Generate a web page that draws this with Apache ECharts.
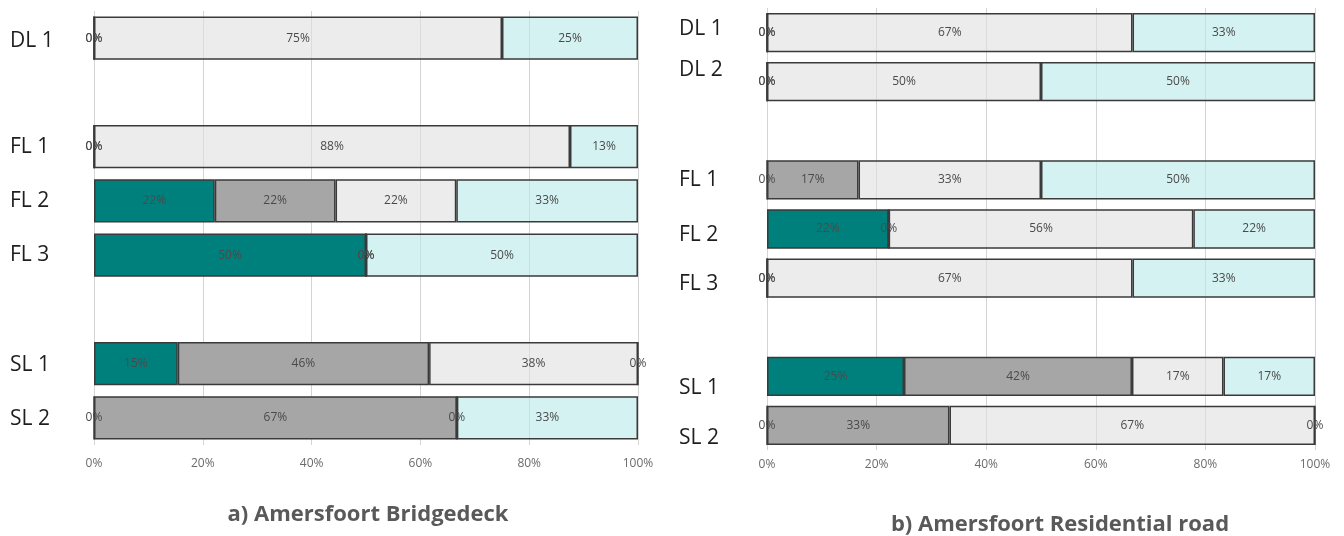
<!DOCTYPE html>
<html>
<head>
<meta charset="utf-8">
<script src="https://cdn.jsdelivr.net/npm/echarts@6/dist/echarts.min.js"></script>
<style>
html,body{margin:0;padding:0;background:#fff;}
#c{width:1344px;height:536px;}
</style>
</head>
<body>
<div id="c"></div>
<script>
// Panel a) Amersfoort Bridgedeck
const catsA = ['DL 1', ' ', 'FL 1', 'FL 2', 'FL 3', '  ', 'SL 1', 'SL 2'];
const tealA  = [0, null, 0,    22.2, 50, null, 15.4, 0];
const grayA  = [0, null, 0,    22.2, 0,  null, 46.2, 66.7];
const lightA = [75, null, 87.5, 22.2, 0,  null, 38.4, 0];
const cyanA  = [25, null, 12.5, 33.4, 50, null, 0,    33.3];

// Panel b) Amersfoort Residential road
const catsB = ['DL 1', 'DL 2', ' ', 'FL 1', 'FL 2', 'FL 3', '  ', 'SL 1', 'SL 2'];
const tealB  = [0,    0,  null, 0,    22.2, 0,    null, 25,   0];
const grayB  = [0,    0,  null, 16.7, 0,    0,    null, 41.6, 33.3];
const lightB = [66.7, 50, null, 33.3, 55.6, 66.7, null, 16.7, 66.7];
const cyanB  = [33.3, 50, null, 50,   22.2, 33.3, null, 16.7, 0];

const xTicks = [0, 20, 40, 60, 80, 100];
const titleA = 'a) Amersfoort Bridgedeck';
const titleB = 'b) Amersfoort Residential road';

// ---- styling ----
const colors = ['#00807d', '#a6a6a6', 'rgba(224,224,224,0.6)', 'rgba(185,233,233,0.6)'];
// vertical nudges (px) of the category labels, as placed in the reference layout
const nudgeA = [3, 0, 0, 0, 0, 0, 1, 1];
const nudgeB = [-4, -12, 0, 0, 6, 6, 0, 12, 13];

function mkSeries(data, idx, colorIdx) {
  return {
    type: 'bar',
    stack: 's' + idx,
    xAxisIndex: idx,
    yAxisIndex: idx,
    data: data,
    barWidth: '80%',
    itemStyle: { color: colors[colorIdx], borderColor: '#3a3a3a', borderWidth: 1.5 },
    label: {
      show: true,
      position: 'inside',
      color: '#4a4a4a',
      fontSize: 12,
      fontFamily: 'Open Sans',
      formatter: p => (p.value == null ? '' : Math.round(p.value) + '%')
    },
    emphasis: { disabled: true },
    animation: false
  };
}

function xAx(idx, margin) {
  return {
    type: 'value', gridIndex: idx, min: 0, max: 100, interval: 20,
    axisLine: { show: false }, axisTick: { show: false },
    splitLine: { show: true, lineStyle: { color: '#d4d4d4', width: 1 } },
    axisLabel: { color: '#6b6b6b', fontSize: 12, fontFamily: 'Open Sans', margin: margin,
      formatter: v => (xTicks.indexOf(v) >= 0 ? v + '%' : '') }
  };
}
function yAx(idx, cats, margin, nudge) {
  const rich = {};
  nudge.forEach((d, i) => {
    rich['n' + i] = {
      color: '#1e1e1e', fontSize: 21, fontFamily: 'Open Sans',
      padding: d >= 0 ? [2 * d, 0, 0, 0] : [0, 0, -2 * d, 0]
    };
  });
  return {
    type: 'category', gridIndex: idx, data: cats, inverse: true,
    axisLine: { show: false }, axisTick: { show: false }, splitLine: { show: false },
    axisLabel: { color: '#1e1e1e', fontSize: 21, fontFamily: 'Open Sans', align: 'left', margin: margin,
      formatter: (v, i) => (v.trim() === '' ? '' : '{n' + i + '|' + v + '}'), rich: rich }
  };
}

const chart = echarts.init(document.getElementById('c'), null, { renderer: 'canvas' });
chart.setOption({
  backgroundColor: '#ffffff',
  animation: false,
  title: [
    { text: titleA, left: 363, top: 499, textAlign: 'center',
      textStyle: { fontSize: 22, fontWeight: 'bold', color: '#595959', fontFamily: 'Open Sans' } },
    { text: titleB, left: 1055, top: 509, textAlign: 'center',
      textStyle: { fontSize: 22, fontWeight: 'bold', color: '#595959', fontFamily: 'Open Sans' } }
  ],
  grid: [
    { left: 94, width: 544, top: 11, height: 434 },
    { left: 767, width: 548, top: 8, height: 442 }
  ],
  xAxis: [xAx(0, 13), xAx(1, 9)],
  yAxis: [yAx(0, catsA, 84, nudgeA), yAx(1, catsB, 88, nudgeB)],
  series: [
    mkSeries(tealA, 0, 0), mkSeries(grayA, 0, 1), mkSeries(lightA, 0, 2), mkSeries(cyanA, 0, 3),
    mkSeries(tealB, 1, 0), mkSeries(grayB, 1, 1), mkSeries(lightB, 1, 2), mkSeries(cyanB, 1, 3)
  ]
});
</script>
</body>
</html>
